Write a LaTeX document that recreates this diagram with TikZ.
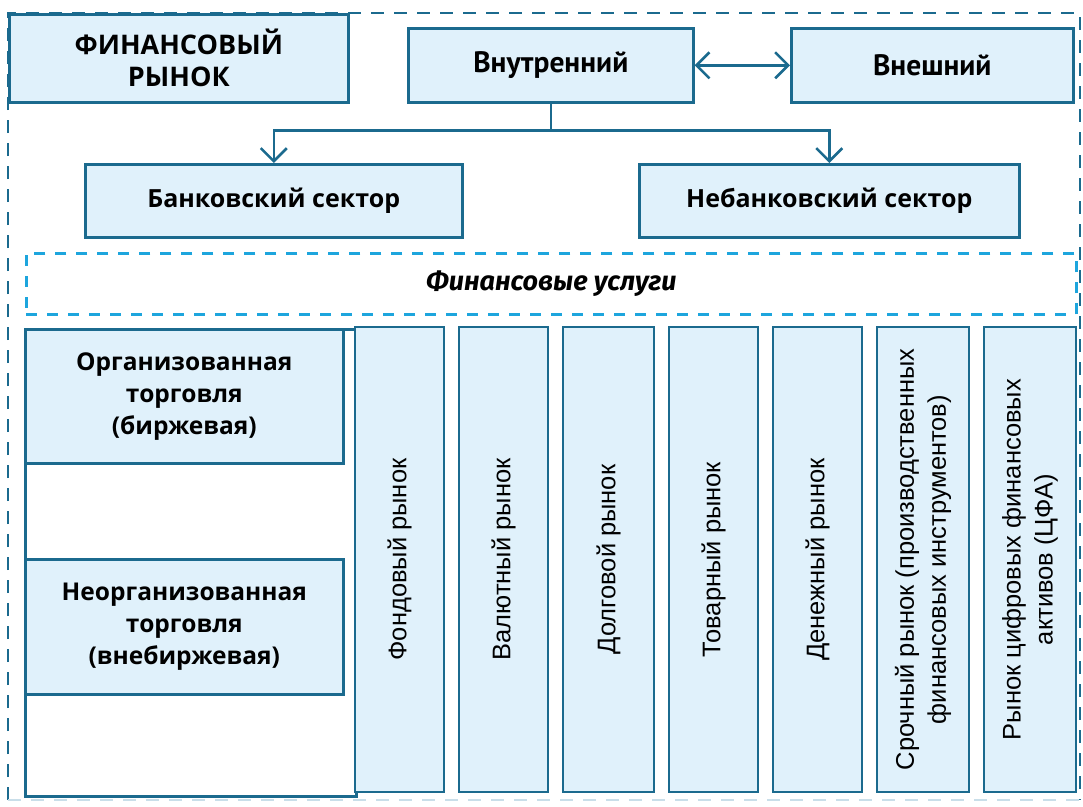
\documentclass[tikz,border=0pt]{standalone}
\usepackage{fontspec}
\setmainfont{Open Sans}
\newfontfamily\colfont{Liberation Sans}
\newfontfamily\ptfont{PT Sans}
\newfontfamily\itfont{Fira Sans}
\usetikzlibrary{arrows.meta}
\definecolor{bord}{HTML}{1B6A8E}
\definecolor{fillb}{HTML}{E0F1FB}
\definecolor{dashl}{HTML}{1DA5DD}
\definecolor{dashpale}{HTML}{C9DEE9}
\begin{document}
\begin{tikzpicture}[x=1pt,y=-1pt,
  box/.style={draw=bord, fill=fillb, line width=2.6pt, inner sep=0pt, anchor=north west, align=center},
  toptext/.style={font=\bfseries\fontsize{27}{32}\selectfont},
  midtext/.style={font=\ptfont\bfseries\fontsize{29.5}{32}\selectfont},
  sectext/.style={font=\bfseries\fontsize{25}{28}\selectfont},
  lefttext/.style={font=\bfseries\fontsize{24.5}{32}\selectfont},
  coltext/.style={font=\colfont\fontsize{25.5}{32}\selectfont},
  colbox/.style={draw=bord, fill=fillb, line width=2.6pt, inner sep=0pt, rotate=90, align=center, minimum width=465, coltext},
  conn/.style={draw=bord, line width=2.6pt},
  barb/.tip={Straight Barb[length=13pt,width=26pt,line width=2.6pt]},
  tip/.style={-barb},
  framedash/.style={draw=bord, line width=2.6pt, dash pattern=on 13pt off 10pt}
]
\useasboundingbox (0,0) rectangle (1083,806);
% outer dashed frame
\draw[framedash] (8,800) -- (8,13) -- (1080,13) -- (1080,800);
\draw[draw=dashpale, line width=2.6pt, dash pattern=on 13pt off 10pt] (8,800) -- (1080,800);

\node[box, minimum width=339, minimum height=88, toptext] (fin) at (8,13) {ФИНАНСОВЫЙ\\РЫНОК};
\node[box, minimum width=285, minimum height=74, midtext] (vn) at (407,27) {Внутренний};
\node[box, minimum width=282, minimum height=74, midtext] (vs) at (790,27) {Внешний};
\node[box, minimum width=377, minimum height=73, sectext] (bank) at (84,163) {Банковский сектор};
\node[box, minimum width=380, minimum height=73, sectext] (nebank) at (638,163) {Небанковский сектор};

\draw[conn, barb-barb] (vn.east) -- (vs.west);
\draw[conn] (vn.south) -- ++(0,27) coordinate (j);
\draw[conn, tip] (j) -| (bank.north);
\draw[conn, tip] (j) -| (nebank.north);

\node[draw=dashl, line width=2.6pt, dash pattern=on 11pt off 10pt, inner sep=0pt, anchor=north west,
  minimum width=1050, minimum height=61, font=\itfont\bfseries\itshape\fontsize{27}{30}\selectfont] (svc) at (25,252) {Финансовые услуги};

\node[box, fill=white, minimum width=331, minimum height=467] (lf) at (24,328) {};
\node[box, minimum width=318, minimum height=134, lefttext] (org) at (24,328) {Организованная\\торговля\\(биржевая)};
\node[box, minimum width=318, minimum height=135, lefttext] (neorg) at (24,558) {Неорганизованная\\торговля\\(внебиржевая)};

\node[colbox, minimum height=89] (c1) at (399.5,559.5) {Фондовый рынок};
\node[colbox, minimum height=89] (c2) at (503.5,559.5) {Валютный рынок};
\node[colbox, minimum height=91] (c3) at (608.5,559.5) {Долговой рынок};
\node[colbox, minimum height=89] (c4) at (713.5,559.5) {Товарный рынок};
\node[colbox, minimum height=89] (c5) at (817.5,559.5) {Денежный рынок};
\node[colbox, minimum height=92] (c6) at (923,559.5) {Срочный рынок (производственных\\финансовых инструментов)};
\node[colbox, minimum height=92] (c7) at (1030,559.5) {Рынок цифровых финансовых\\активов (ЦФА)};
\end{tikzpicture}
\end{document}
